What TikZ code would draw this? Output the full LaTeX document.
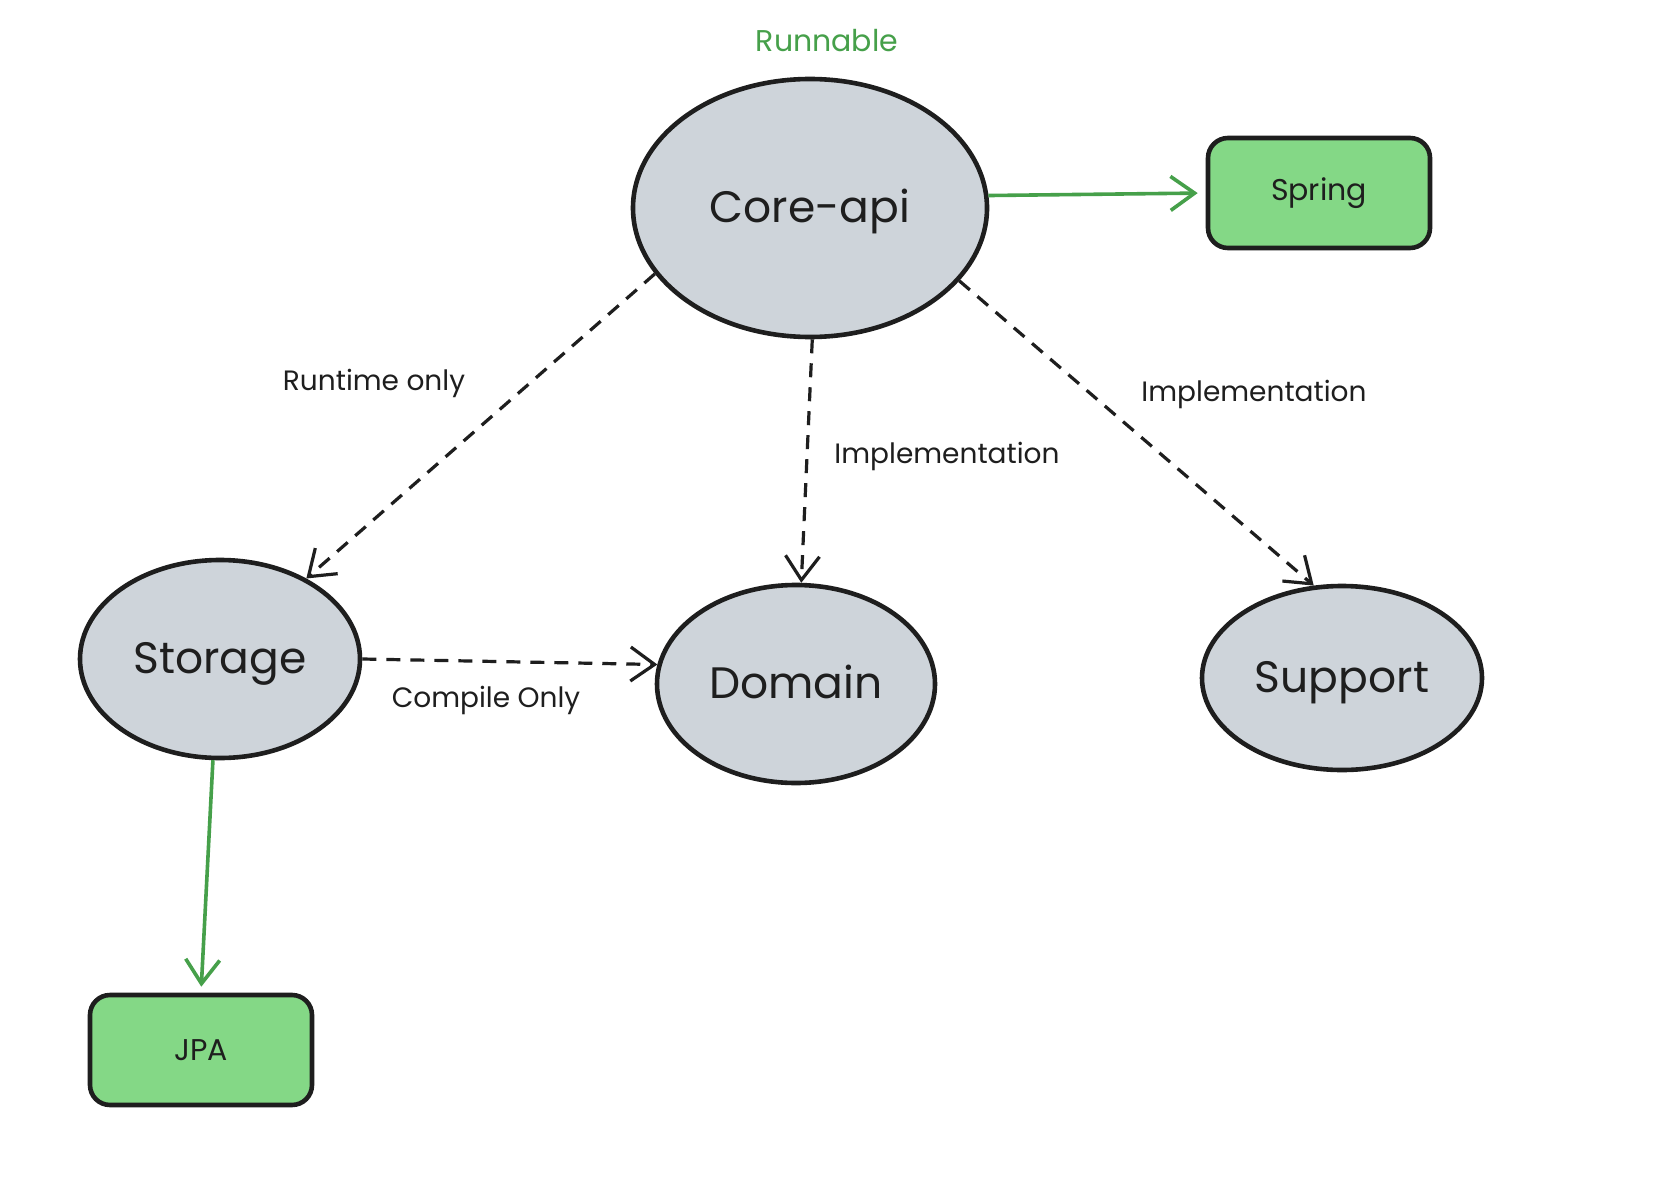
\documentclass[tikz,border=0pt]{standalone}
\usepackage{fontspec}
\setmainfont{Poppins}
\usetikzlibrary{shapes.geometric,arrows.meta}
\definecolor{ink}{HTML}{1E1E1E}
\definecolor{grayfill}{HTML}{CED4DA}
\definecolor{greenfill}{RGB}{132,216,134}
\definecolor{greenline}{RGB}{70,160,74}
\begin{document}
\begin{tikzpicture}[x=0.5pt,y=-0.5pt,
  modnode/.style={ellipse,draw=ink,line width=2.3pt,fill=grayfill,inner sep=0pt,text=ink,text height=18pt,text depth=4pt,font=\fontsize{22}{26}\selectfont},
  libbox/.style={rectangle,rounded corners=10pt,draw=ink,line width=2.3pt,fill=greenfill,inner sep=0pt,minimum width=111pt,minimum height=55pt,text=ink,font=\fontsize{15}{18}\selectfont},
  deplabel/.style={text=ink,font=\fontsize{14}{17}\selectfont,inner sep=0pt},
  barb/.tip={Straight Barb[length=12pt,width=17pt,line width=1.6pt]},
  depline/.style={draw=ink,line width=1.6pt,dash pattern=on 7pt off 5pt,-barb},
  useline/.style={draw=greenline,line width=1.8pt,-{Straight Barb[length=12pt,width=17pt,line width=1.8pt]}}
]
\path[fill=white,use as bounding box] (0,0) rectangle (1654,1188);

\node[modnode,minimum width=177pt,minimum height=129pt] (core) at (810,208) {Core-api};
\node[modnode,minimum width=140pt,minimum height=99pt] (storage) at (220,659) {Storage};
\node[modnode,minimum width=139pt,minimum height=99pt] (domain) at (796,684) {Domain};
\node[modnode,minimum width=140pt,minimum height=92pt] (support) at (1342,678) {Support};
\node[libbox] (spring) at (1319,193) {Spring};
\node[libbox] (jpa) at (201,1050) {JPA};

\node[text=greenline,font=\fontsize{15}{18}\selectfont,inner sep=0pt] (runnable) at (827,41) {Runnable};

\draw[useline,shorten >=4pt] (core.4) -- (spring.west);
\draw[useline,shorten >=3pt] (storage.266) -- (jpa.north);

\draw[depline] (core.203) -- (storage.43);
\draw[depline] (core.271) -- (domain.87);
\draw[depline] (core.334) -- (support.107);
\draw[depline] (storage.east) -- (domain.172);

\node[deplabel] (lruntime) at (374,383) {Runtime only};
\node[deplabel] (limplmid) at (947,456) {Implementation};
\node[deplabel] (limplright) at (1254,394) {Implementation};
\node[deplabel] (lcompile) at (486,700) {Compile Only};
\end{tikzpicture}
\end{document}
